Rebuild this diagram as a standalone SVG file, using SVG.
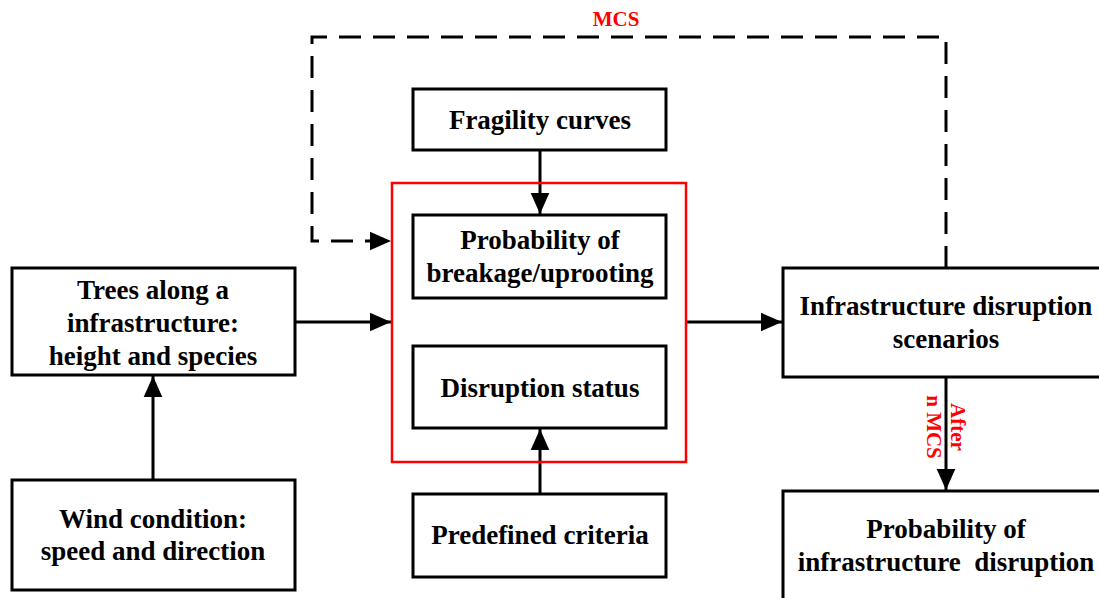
<svg xmlns="http://www.w3.org/2000/svg" width="1099" height="598" viewBox="0 0 1099 598">
<defs>
<marker id="ah" markerWidth="8" markerHeight="8" refX="7" refY="4" orient="auto" markerUnits="strokeWidth">
<path d="M0,0.9 L7,4 L0,7.1 Z" fill="#000"/>
</marker>
<style>
.box{fill:#fff;stroke:#000;stroke-width:3}
.t{font-family:"Liberation Serif","Times New Roman",serif;font-weight:bold;font-size:27px;fill:#000;text-anchor:middle}
.r{font-family:"Liberation Serif","Times New Roman",serif;font-weight:bold;font-size:21px;fill:#ff0000;text-anchor:middle}
.c{fill:none;stroke:#000;stroke-width:3}
</style>
</defs>
<rect width="1099" height="598" fill="#fff"/>
<g id="connectors">
<path class="c" d="M946,268 V37 H312 V241 H391" stroke-dasharray="22,12" marker-end="url(#ah)"/>
<line class="c" x1="540" y1="150" x2="540" y2="214" marker-end="url(#ah)"/>
<line class="c" x1="540" y1="494" x2="540" y2="429" marker-end="url(#ah)"/>
<line class="c" x1="295" y1="322" x2="391" y2="322" marker-end="url(#ah)"/>
<line class="c" x1="686" y1="322" x2="782" y2="322" marker-end="url(#ah)"/>
<line class="c" x1="153" y1="480" x2="153" y2="376" marker-end="url(#ah)"/>
<line class="c" x1="946" y1="377" x2="946" y2="490" marker-end="url(#ah)"/>
<text class="r" x="616" y="26">MCS</text>
<text class="r" transform="translate(951,427) rotate(90)">After</text>
<text class="r" transform="translate(927,427) rotate(90)">n MCS</text>
</g>
<g id="red-group"><rect x="392" y="183" width="294" height="279" fill="none" stroke="#ff0000" stroke-width="2.5"/></g>
<g id="trees"><rect class="box" x="12" y="268" width="283" height="107"/>
<text class="t" x="153" y="299">Trees along a</text><text class="t" x="153" y="332">infrastructure:</text><text class="t" x="153" y="365">height and species</text></g>
<g id="wind"><rect class="box" x="12" y="480" width="283" height="110"/>
<text class="t" x="153" y="528">Wind condition:</text><text class="t" x="153" y="560">speed and direction</text></g>
<g id="fragility"><rect class="box" x="413" y="89" width="253" height="61"/>
<text class="t" x="540" y="129">Fragility curves</text></g>
<g id="probability-breakage"><rect class="box" x="413" y="215" width="253" height="83"/>
<text class="t" x="540" y="249">Probability of</text><text class="t" x="540" y="282">breakage/uprooting</text></g>
<g id="disruption-status"><rect class="box" x="413" y="346" width="253" height="82"/>
<text class="t" x="540" y="397">Disruption status</text></g>
<g id="predefined"><rect class="box" x="413" y="494" width="253" height="83"/>
<text class="t" x="540" y="544">Predefined criteria</text></g>
<g id="scenarios"><rect class="box" x="783" y="268" width="330" height="109"/>
<text class="t" x="946" y="315">Infrastructure disruption</text><text class="t" x="946" y="348">scenarios</text></g>
<g id="probability-infra"><rect class="box" x="783" y="491" width="330" height="120"/>
<text class="t" x="946" y="538">Probability of</text><text class="t" x="946" y="571" xml:space="preserve">infrastructure  disruption</text></g>
</svg>
